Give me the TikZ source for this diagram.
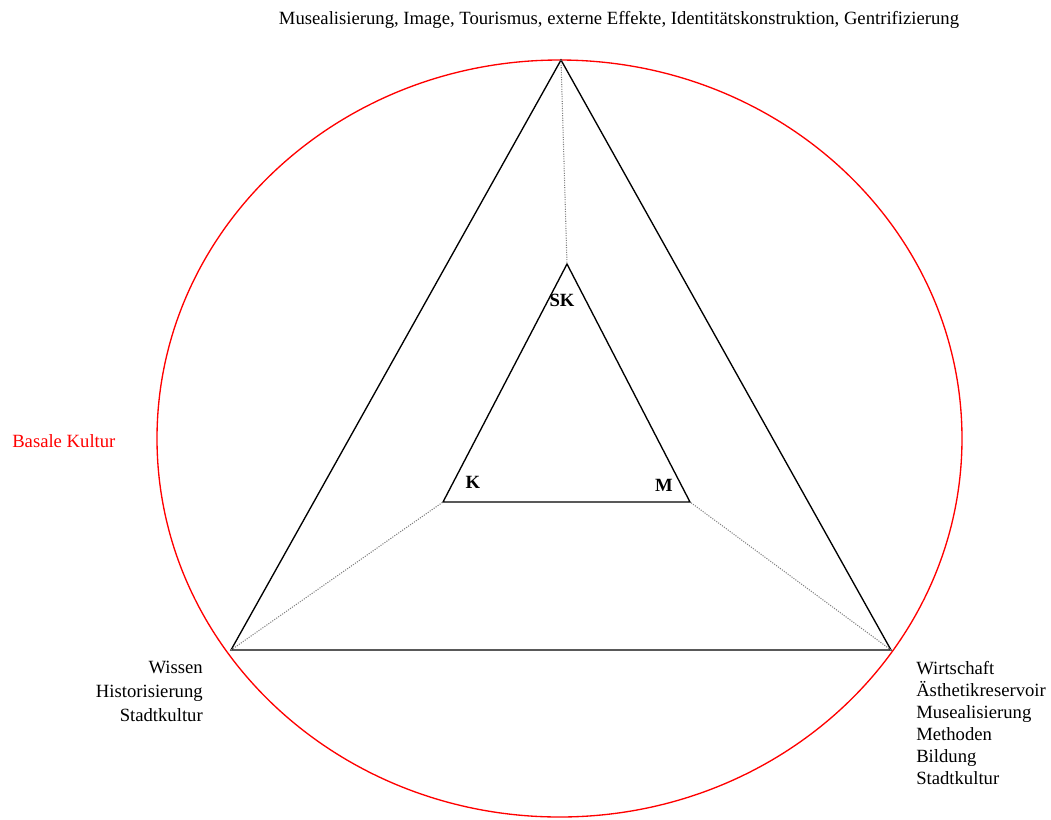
\documentclass[tikz,border=0pt]{standalone}
\usepackage{fontspec}
\setmainfont{Liberation Serif}
\usetikzlibrary{positioning}

\tikzset{
  side/.style={black,line width=1pt},
  spoke/.style={gray,densely dotted,line width=0.8pt},
  ring/.style={red,line width=1pt},
  corner/.style={font=\fontsize{14}{16}\selectfont\bfseries,inner sep=0pt},
  txt/.style={font=\fontsize{14}{17}\selectfont,inner sep=0pt}
}

\begin{document}
\begin{tikzpicture}[x=0.75pt,y=-0.75pt]
  \useasboundingbox (0,0) rectangle (1051,819);
  % circle
  \coordinate (ctr) at (559.5,438.5);
  \draw[ring] (ctr) ellipse [x radius=402.5, y radius=378.5];
  % outer triangle
  \coordinate (oT) at (561,60);
  \coordinate (oL) at (231,650);
  \coordinate (oR) at (891,650);
  \draw[side] (oT) -- (oL) -- (oR) -- cycle;
  % inner triangle
  \coordinate (iT) at (567,264);
  \coordinate (iL) at (443,502);
  \coordinate (iR) at (690,502);
  \draw[side] (iT) -- (iL) -- (iR) -- cycle;
  \draw[spoke] (oT) -- (iT);
  \draw[spoke] (oL) -- (iL);
  \draw[spoke] (oR) -- (iR);
  \node[corner] (sk) at (562,300) {SK};
  \node[corner] (k) at (473,482) {K};
  \node[corner] (m) at (664,485) {M};
  % labels
  \node[txt] (top) at (619,20) {Musealisierung, Image, Tourismus, externe Effekte, Identitätskonstruktion, Gentrifizierung};
  \node[txt,red,anchor=west] (basal) at (12,441) {Basale Kultur};
  \node[txt,align=right,anchor=north east,font=\fontsize{14}{18}\selectfont] (wissen) at (203,661)
    {Wissen\\Historisierung\\Stadtkultur};
  \node[txt,align=left,anchor=north west,font=\fontsize{14}{16.5}\selectfont] (wirt) at (916,661)
    {Wirtschaft\\Ästhetikreservoir\\Musealisierung\\Methoden\\Bildung\\Stadtkultur};
\end{tikzpicture}
\end{document}
